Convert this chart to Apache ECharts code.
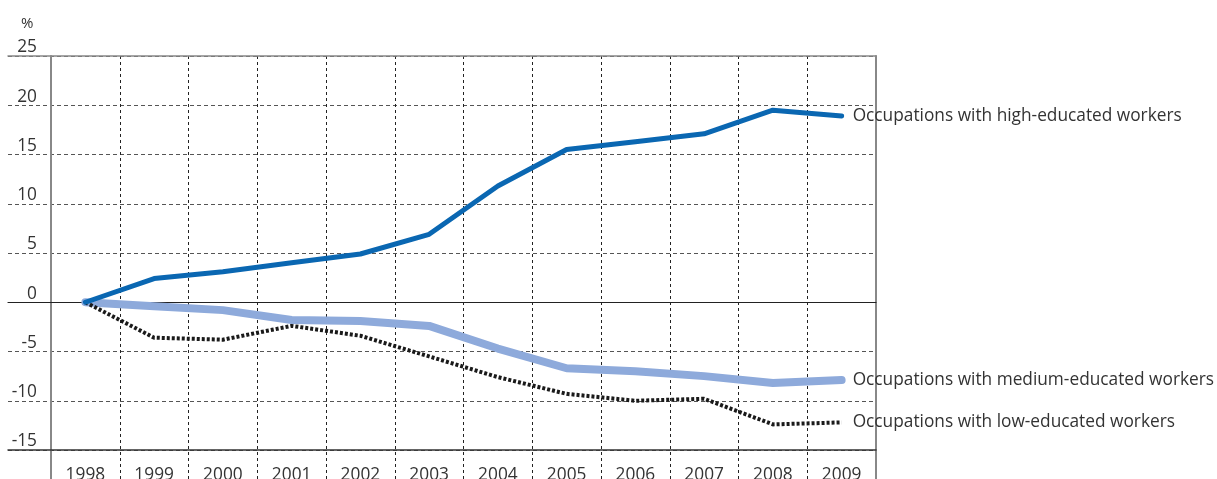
<!DOCTYPE html>
<html>
<head>
<meta charset="utf-8">
<script src="https://cdn.jsdelivr.net/npm/echarts@6/dist/echarts.min.js"></script>
<style>html,body{margin:0;padding:0;background:#fff}#c{width:1217px;height:479px}</style>
</head>
<body>
<div id="c"></div>
<script>
const years = ['1998','1999','2000','2001','2002','2003','2004','2005','2006','2007','2008','2009'];
const highEdu = [0, 2.4, 3.1, 4.0, 4.9, 6.9, 11.8, 15.5, 16.3, 17.1, 19.5, 18.9];
const mediumEdu = [0, -0.4, -0.8, -1.8, -1.9, -2.4, -4.7, -6.7, -7.0, -7.5, -8.2, -7.9];
const lowEdu = [0, -3.6, -3.8, -2.4, -3.4, -5.5, -7.6, -9.3, -10.0, -9.8, -12.4, -12.2];
const seriesNames = ['Occupations with high-educated workers','Occupations with medium-educated workers','Occupations with low-educated workers'];
const yMin = -15, yMax = 25, yStep = 5;

const FONT = 'Open Sans';
const FS = 17.3;
const TOP = 56, PLOT_BOTTOM = 29, RIGHT = 341;
const plotH = 479 - TOP - PLOT_BOTTOM;
const extMin = yMin - PLOT_BOTTOM * (yMax - yMin) / plotH;

const chart = echarts.init(document.getElementById('c'));
const lbl = (extra) => Object.assign({show:true, distance:11, fontFamily:FONT, fontSize:FS, color:'#333', formatter:p=>p.seriesName, padding:[3,0,0,0]}, extra||{});
chart.setOption({
  animation:false,
  title:{text:'%', left:16, top:11, textStyle:{fontFamily:FONT, fontSize:15, fontWeight:'normal', color:'#333'}},
  grid:[
    {left:8, right:RIGHT, top:TOP, bottom:PLOT_BOTTOM, outerBoundsMode:'none', containLabel:false},
    {left:51, right:RIGHT, top:TOP, bottom:0, outerBoundsMode:'none', containLabel:false}
  ],
  xAxis:[
    {gridIndex:0, type:'value', min:0, max:1, position:'bottom', axisLine:{show:true, onZero:false, lineStyle:{color:'#333', width:1.5}}, axisTick:{show:false}, axisLabel:{show:false}, splitLine:{show:false}},
    {gridIndex:0, type:'value', min:0, max:1, position:'top', axisLine:{show:true, onZero:false, lineStyle:{color:'#888', width:1.5}}, axisTick:{show:false}, axisLabel:{show:false}, splitLine:{show:false}},
    {gridIndex:0, type:'value', min:0, max:1, axisLine:{show:true, onZero:true, lineStyle:{color:'#222', width:1.2}}, axisTick:{show:false}, axisLabel:{show:false}, splitLine:{show:false}},
    {gridIndex:1, type:'category', data:years, boundaryGap:true,
      axisLine:{show:false}, axisTick:{show:false},
      axisLabel:{fontFamily:FONT, fontSize:FS, color:'#333', margin:-12, interval:0},
      splitLine:{show:true, interval:0, lineStyle:{color:'#222', type:[3,3], width:1}}}
  ],
  yAxis:[
    {gridIndex:0, type:'value', min:yMin, max:yMax, interval:yStep,
      axisLine:{show:false}, axisTick:{show:false},
      axisLabel:{inside:true, align:'right', verticalAlign:'bottom', margin:29, fontFamily:FONT, fontSize:FS, color:'#333'},
      splitLine:{show:true, lineStyle:{color:'#555', type:[4,3], width:1}}},
    {gridIndex:1, type:'value', min:extMin, max:yMax, position:'left',
      axisLine:{show:true, lineStyle:{color:'#888', width:2}}, axisTick:{show:false}, axisLabel:{show:false}, splitLine:{show:false}},
    {gridIndex:1, type:'value', min:extMin, max:yMax, position:'right',
      axisLine:{show:true, lineStyle:{color:'#888', width:2}}, axisTick:{show:false}, axisLabel:{show:false}, splitLine:{show:false}}
  ],
  series:[
    {name:seriesNames[1], type:'line', xAxisIndex:3, yAxisIndex:1, data:mediumEdu, symbol:'none', z:2,
      lineStyle:{color:'#8eaadb', width:8, cap:'round', join:'round'}, endLabel:lbl()},
    {name:seriesNames[2], type:'line', xAxisIndex:3, yAxisIndex:1, data:lowEdu, symbol:'none', z:3,
      lineStyle:{color:'#1a1a1a', width:4, type:[3,2], cap:'butt'}, endLabel:lbl()},
    {name:seriesNames[0], type:'line', xAxisIndex:3, yAxisIndex:1, data:highEdu, symbol:'none', z:4,
      lineStyle:{color:'#0a67b2', width:5, cap:'round', join:'round'}, endLabel:lbl()}
  ]
});
</script>
</body>
</html>
